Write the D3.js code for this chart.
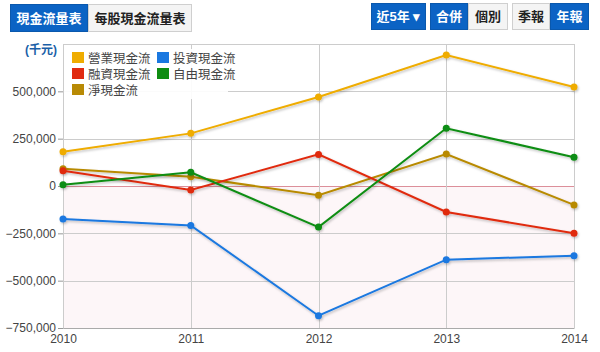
<!DOCTYPE html>
<html>
<head>
<meta charset="utf-8">
<script src="https://cdn.jsdelivr.net/npm/d3@7"></script>
<style>
  body { margin: 0; background: #fff; font-family: Arial, "Liberation Sans", "Noto Sans CJK TC", sans-serif; }
  #chart { width: 600px; height: 352px; }
</style>
</head>
<body>
<div id="chart"></div>
<script>
const years = [2010, 2011, 2012, 2013, 2014]
const seriesNames = ["營業現金流", "投資現金流", "融資現金流", "自由現金流", "淨現金流"]
const operating = [181000, 278000, 470000, 692000, 523000]
const investing = [-174000, -208000, -685000, -389000, -368000]
const financing = [81000, -21000, 167000, -137000, -250000]
const freeCash = [7000, 72000, -217000, 305000, 152000]
const netCash = [91000, 49000, -49000, 169000, -100000]
const gridTicks = [-750000, -500000, -250000, 0, 250000, 500000, 750000]
const labelTicks = [-750000, -500000, -250000, 0, 250000, 500000]
const leftButtons = ["現金流量表", "每股現金流量表"]
const rightButtons = ["近5年 ▾", "合併", "個別", "季報", "年報"]

const colors = ["#efac00", "#1a78e0", "#e02a10", "#0e8d12", "#b88a05"]
const seriesValues = [operating, investing, financing, freeCash, netCash]

const W = 600, H = 352
const margin = { top: 44, right: 26, bottom: 24, left: 63 }
const innerW = W - margin.left - margin.right
const innerH = H - margin.top - margin.bottom

const svg = d3.select("#chart").append("svg")
  .attr("width", W)
  .attr("height", H)

const defs = svg.append("defs")
const shadow = defs.append("filter").attr("id", "shadow")
  .attr("x", "-5%").attr("y", "-5%").attr("width", "110%").attr("height", "110%")
shadow.append("feDropShadow")
  .attr("dx", 1).attr("dy", 1.5).attr("stdDeviation", 0.8)
  .attr("flood-color", "#000").attr("flood-opacity", 0.25)

// BUTTONS
function button(x, y, w, h, label, active) {
  const b = svg.append("g")
  b.append("rect")
    .attr("x", x + 0.5).attr("y", y + 0.5)
    .attr("width", w - 1).attr("height", h - 1)
    .attr("fill", active ? "#0b63c4" : "#f4f4f4")
    .attr("stroke", active ? "#0a58ad" : "#cfcfcf")
  b.append("text")
    .attr("x", x + w / 2).attr("y", y + h / 2 + 4.5)
    .attr("text-anchor", "middle")
    .style("font-size", "13px")
    .style("font-weight", "bold")
    .style("fill", active ? "#fff" : "#222")
    .text(label)
}
button(10, 4, 78, 28, leftButtons[0], true)
button(88, 4, 104, 28, leftButtons[1], false)
button(371, 3, 55, 27, rightButtons[0], true)
button(430, 3, 38, 27, rightButtons[1], true)
button(468, 3, 40, 27, rightButtons[2], false)
button(512, 3, 38, 27, rightButtons[3], false)
button(550, 3, 39, 27, rightButtons[4], true)

const g = svg.append("g")
  .attr("transform", "translate(" + margin.left + "," + margin.top + ")")

const x = d3.scaleLinear()
  .domain([years[0], years[years.length - 1]])
  .range([0, innerW])

const y = d3.scaleLinear()
  .domain([-750000, 750000])
  .range([innerH, 0])

// NEGATIVE BACKGROUND
g.append("rect")
  .attr("x", 0).attr("y", y(0))
  .attr("width", innerW).attr("height", innerH - y(0))
  .attr("fill", "#fdf6f8")

// GRID
g.append("g")
  .selectAll("line")
  .data(gridTicks)
  .enter()
  .append("line")
  .attr("x1", 0).attr("x2", innerW)
  .attr("y1", d => Math.round(y(d)) + 0.5)
  .attr("y2", d => Math.round(y(d)) + 0.5)
  .attr("stroke", d => d === 0 ? "#dc8f9a" : "#cccccc")

g.append("g")
  .selectAll("line")
  .data(years)
  .enter()
  .append("line")
  .attr("x1", d => Math.round(x(d)) + 0.5)
  .attr("x2", d => Math.round(x(d)) + 0.5)
  .attr("y1", 0).attr("y2", innerH)
  .attr("stroke", "#cccccc")

// Y AXIS
const yAxis = g.append("g")
  .call(d3.axisLeft(y).tickValues(labelTicks).tickSize(5).tickPadding(2).tickFormat(d3.format(",")))
yAxis.select(".domain").remove()
yAxis.selectAll("line").attr("stroke", "#999")
yAxis.selectAll("text")
  .style("font-size", "12px")
  .style("font-family", "Arial, 'Liberation Sans', sans-serif")
  .style("fill", "#444")

// X AXIS
const xAxis = g.append("g")
  .attr("transform", "translate(0," + innerH + ")")
  .call(d3.axisBottom(x).tickValues(years).tickSize(0).tickPadding(6).tickFormat(d => d))
xAxis.select(".domain").attr("stroke", "#aaa")
xAxis.selectAll("text")
  .style("font-size", "12px")
  .style("font-family", "Arial, 'Liberation Sans', sans-serif")
  .style("fill", "#444")

// LINES
const line = d3.line()
  .x((d, i) => x(years[i]))
  .y(d => y(d))

const order = [4, 0, 2, 3, 1]
order.forEach(si => {
  const s = g.append("g").attr("filter", "url(#shadow)")
  s.append("path")
    .datum(seriesValues[si])
    .attr("d", line)
    .attr("fill", "none")
    .attr("stroke", colors[si])
    .attr("stroke-width", 2)
  s.selectAll("circle")
    .data(seriesValues[si])
    .enter()
    .append("circle")
    .attr("cx", (d, i) => x(years[i]))
    .attr("cy", d => y(d))
    .attr("r", 3.5)
    .attr("fill", colors[si])
})

// UNIT LABEL
svg.append("text")
  .attr("x", 25).attr("y", 54)
  .style("font-size", "12px")
  .style("font-weight", "bold")
  .style("fill", "#1a5fa8")
  .text("(千元)")

// LEGEND
const legend = svg.append("g")
legend.append("rect")
  .attr("x", 64).attr("y", 49)
  .attr("width", 164).attr("height", 50)
  .attr("fill", "#fff")
  .attr("opacity", 0.92)
const legendPos = [[72, 58], [157, 58], [72, 74], [157, 74], [72, 90]]
seriesNames.forEach((name, i) => {
  legend.append("rect")
    .attr("x", legendPos[i][0]).attr("y", legendPos[i][1] - 6)
    .attr("width", 12).attr("height", 11)
    .attr("fill", colors[i])
  legend.append("text")
    .attr("x", legendPos[i][0] + 16).attr("y", legendPos[i][1] + 4.5)
    .style("font-size", "12.5px")
    .style("fill", "#444")
    .text(name)
})
</script>
</body>
</html>
